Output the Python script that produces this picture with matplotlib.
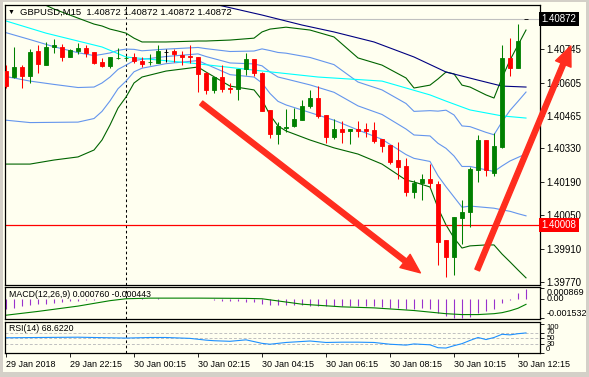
import numpy as np
import matplotlib
matplotlib.use("Agg")
import matplotlib.pyplot as plt
import matplotlib.transforms as mtransforms
from matplotlib.patches import Rectangle, FancyArrowPatch

W, H = 589, 377
BG = "#FFFFF0"
UP, DOWN = "#008000", "#FF0000"
plt.rcParams["font.family"] = ["Liberation Sans", "DejaVu Sans"]

# GBPUSD M15, bar 0 = 29 Jan 20:15
opens = [1.40654, 1.40629, 1.40671, 1.40633, 1.40738, 1.40679, 1.40755, 1.40755, 1.40713, 1.40738,
         1.40750, 1.40734, 1.40692, 1.40675, 1.40707, 1.40708, 1.40713, 1.40696, 1.40690, 1.40688,
         1.40736, 1.40738, 1.40721, 1.40717, 1.40713, 1.40646, 1.40575, 1.40629, 1.40581, 1.40579,
         1.40663, 1.40704, 1.40646, 1.40491, 1.40390, 1.40417, 1.40424, 1.40449, 1.40507, 1.40541,
         1.40470, 1.40378, 1.40411, 1.40403, 1.40411, 1.40411, 1.40407, 1.40369, 1.40344, 1.40281,
         1.40256, 1.40147, 1.40185, 1.40202, 1.40181, 1.39946, 1.39875, 1.40038, 1.40063, 1.40239,
         1.40365, 1.40227, 1.40336, 1.40709, 1.40667, 1.40872]
highs = [1.40679, 1.40755, 1.40679, 1.40746, 1.40763, 1.40776, 1.40788, 1.40767, 1.40746, 1.40771,
         1.40763, 1.40734, 1.40709, 1.40713, 1.40750, 1.40717, 1.40730, 1.40713, 1.40725, 1.40763,
         1.40746, 1.40746, 1.40738, 1.40763, 1.40713, 1.40650, 1.40629, 1.40679, 1.40604, 1.40663,
         1.40730, 1.40704, 1.40650, 1.40491, 1.40440, 1.40495, 1.40499, 1.40533, 1.40575, 1.40591,
         1.40470, 1.40453, 1.40445, 1.40411, 1.40445, 1.40436, 1.40440, 1.40369, 1.40344, 1.40357,
         1.40290, 1.40197, 1.40223, 1.40264, 1.40193, 1.39946, 1.40042, 1.40114, 1.40252, 1.40386,
         1.40365, 1.40394, 1.40763, 1.40792, 1.40851, 1.40872]
lows = [1.40583, 1.40625, 1.40583, 1.40604, 1.40646, 1.40679, 1.40730, 1.40696, 1.40713, 1.40725,
        1.40713, 1.40683, 1.40671, 1.40667, 1.40704, 1.40700, 1.40688, 1.40671, 1.40679, 1.40688,
        1.40692, 1.40692, 1.40679, 1.40688, 1.40566, 1.40558, 1.40562, 1.40566, 1.40562, 1.40533,
        1.40637, 1.40633, 1.40487, 1.40373, 1.40348, 1.40399, 1.40419, 1.40449, 1.40499, 1.40457,
        1.40352, 1.40369, 1.40352, 1.40348, 1.40378, 1.40378, 1.40352, 1.40315, 1.40264, 1.40202,
        1.40130, 1.40122, 1.40114, 1.40164, 1.39841, 1.39791, 1.39799, 1.39929, 1.40000, 1.40189,
        1.40214, 1.40214, 1.40331, 1.40633, 1.40667, 1.40872]
closes = [1.40591, 1.40671, 1.40633, 1.40734, 1.40683, 1.40755, 1.40763, 1.40713, 1.40742, 1.40750,
          1.40730, 1.40688, 1.40675, 1.40713, 1.40709, 1.40710, 1.40696, 1.40683, 1.40692, 1.40738,
          1.40736, 1.40725, 1.40713, 1.40713, 1.40642, 1.40575, 1.40629, 1.40579, 1.40577, 1.40663,
          1.40704, 1.40646, 1.40487, 1.40390, 1.40424, 1.40419, 1.40453, 1.40507, 1.40541, 1.40466,
          1.40378, 1.40411, 1.40399, 1.40411, 1.40403, 1.40403, 1.40361, 1.40340, 1.40273, 1.40252,
          1.40147, 1.40185, 1.40202, 1.40185, 1.39938, 1.39875, 1.40042, 1.40063, 1.40243, 1.40365,
          1.40239, 1.40340, 1.40709, 1.40667, 1.40780, 1.40872]

# Bollinger bands (green = 2 dev, blue = 1 dev + middle), read at these bars
bb_idx = [0, 3, 6, 9, 11, 12, 13, 14, 15, 16, 17, 20, 24, 25, 28, 31, 32, 33, 34, 35, 38, 41,
          44, 47, 50, 51, 53, 54, 55, 56, 57, 58, 60, 61, 62, 63, 64, 65]
bb_up2 = [1.40998, 1.40960, 1.40914, 1.40876, 1.40851, 1.40843, 1.40830, 1.40822, 1.40813, 1.40792,
          1.40776, 1.40776, 1.40780, 1.40780, 1.40784, 1.40792, 1.40818, 1.40830, 1.40834, 1.40838,
          1.40826, 1.40797, 1.40709, 1.40679, 1.40625, 1.40583, 1.40595, 1.40621, 1.40650, 1.40642,
          1.40595, 1.40587, 1.40554, 1.40541, 1.40625, 1.40700, 1.40763, 1.40826]
bb_lo2 = [1.40264, 1.40264, 1.40281, 1.40294, 1.40323, 1.40365, 1.40428, 1.40499, 1.40545, 1.40604,
          1.40629, 1.40654, 1.40671, 1.40650, 1.40591, 1.40575, 1.40533, 1.40470, 1.40424, 1.40403,
          1.40365, 1.40332, 1.40306, 1.40264, 1.40197, 1.40189, 1.40168, 1.40080, 1.40009, 1.39954,
          1.39912, 1.39921, 1.39925, 1.39925, 1.39887, 1.39854, 1.39820, 1.39787]
bb_mid = [1.40631, 1.40612, 1.40598, 1.40585, 1.40587, 1.40604, 1.40629, 1.40661, 1.40679, 1.40698,
          1.40703, 1.40715, 1.40726, 1.40715, 1.40688, 1.40684, 1.40676, 1.40650, 1.40629, 1.40621,
          1.40596, 1.40565, 1.40508, 1.40472, 1.40411, 1.40386, 1.40382, 1.40351, 1.40330, 1.40298,
          1.40254, 1.40254, 1.40240, 1.40233, 1.40256, 1.40277, 1.40292, 1.40307]
bb_up1 = [1.40815, 1.40786, 1.40756, 1.40731, 1.40719, 1.40724, 1.40730, 1.40741, 1.40746, 1.40745,
          1.40739, 1.40746, 1.40753, 1.40748, 1.40736, 1.40738, 1.40747, 1.40740, 1.40732, 1.40729,
          1.40711, 1.40681, 1.40608, 1.40575, 1.40518, 1.40485, 1.40488, 1.40486, 1.40490, 1.40470,
          1.40424, 1.40421, 1.40397, 1.40387, 1.40441, 1.40489, 1.40527, 1.40566]
bb_lo1 = [1.40448, 1.40438, 1.40439, 1.40440, 1.40455, 1.40485, 1.40529, 1.40580, 1.40612, 1.40651,
          1.40666, 1.40685, 1.40698, 1.40683, 1.40639, 1.40629, 1.40604, 1.40560, 1.40527, 1.40512,
          1.40480, 1.40448, 1.40407, 1.40368, 1.40304, 1.40288, 1.40275, 1.40215, 1.40169, 1.40126,
          1.40083, 1.40088, 1.40082, 1.40079, 1.40072, 1.40066, 1.40056, 1.40047]

ma_cyan_idx = [0, 5, 12, 15, 23, 31, 39, 47, 53, 55, 58, 62, 65]
ma_cyan = [1.40864, 1.40813, 1.40755, 1.40713, 1.40688, 1.40658, 1.40629, 1.40612, 1.40554,
           1.40528, 1.40491, 1.40466, 1.40457]
ma_navy_idx = [23, 26, 32, 37, 41, 46, 51, 55, 59, 62, 65]
ma_navy = [1.40956, 1.40935, 1.40889, 1.40847, 1.40818, 1.40776, 1.40713, 1.40650, 1.40616,
           1.40591, 1.40587]

macd_main = [-0.00080, -0.00072, -0.00060, -0.00052, -0.00045, -0.00038, -0.00032, -0.00026,
             -0.00020, -0.00015, -0.00011, -0.00008, -0.00005, -0.00003, -0.00001, 0.00001,
             0.00002, 0.00003, 0.00002, 0.00003, 0.00002, 0.00001, 0.00001, -0.00001, -0.00002,
             -0.00004, -0.00010, -0.00015, -0.00018, -0.00020, -0.00023, -0.00025, -0.00040,
             -0.00048, -0.00050, -0.00052, -0.00050, -0.00052, -0.00055, -0.00055, -0.00058,
             -0.00055, -0.00055, -0.00055, -0.00057, -0.00058, -0.00060, -0.00068, -0.00072,
             -0.00072, -0.00080, -0.00078, -0.00075, -0.00078, -0.00110, -0.00135, -0.00150,
             -0.00150, -0.00145, -0.00110, -0.00100, -0.00080, -0.00030, -0.00010, 0.00042, 0.00076]
macd_sig_idx = [0, 4, 9, 13, 15, 18, 24, 30, 32, 37, 42, 46, 51, 55, 57, 59, 61, 62, 63, 64, 65]
macd_sig = [-0.00130, -0.00100, -0.00058, -0.00015, 0.0, 0.00005, 0.00005, 0.00003, 0.0, -0.00043,
            -0.00064, -0.00072, -0.00093, -0.00118, -0.00125, -0.00125, -0.00118, -0.00110,
            -0.00095, -0.00075, -0.00044]

rsi_idx = [0, 4, 9, 13, 15, 18, 20, 23, 25, 26, 28, 30, 32, 33, 35, 38, 40, 42, 44, 46, 48, 50,
           51, 53, 54, 55, 56, 57, 58, 59, 60, 61, 62, 63, 64, 65]
rsi = [52, 53, 54, 52, 51, 53, 53, 50, 44, 42, 40, 45, 33, 30, 36, 41, 36, 37, 37, 36, 30, 27,
       31, 28, 18, 17, 25, 32, 43, 53, 46, 53, 64, 62, 66, 68.622]

time_idx = [0, 8, 16, 24, 32, 40, 48, 56, 64]
time_labels = ["29 Jan 2018", "29 Jan 22:15", "30 Jan 00:15", "30 Jan 02:15", "30 Jan 04:15",
               "30 Jan 06:15", "30 Jan 08:15", "30 Jan 10:15", "30 Jan 12:15"]
price_ticks = [1.40745, 1.40605, 1.40465, 1.40330, 1.40190, 1.40050, 1.39910, 1.39770]
bid = 1.40872
hline_price = 1.40008
separator_bar = 15
arrow_down = ((24.4, 1.40520), (51.8, 1.39808))
arrow_up = ((58.9, 1.39820), (70.6, 1.40759))


def px_axes(fig, x0, y0, x1, y1):
    return fig.add_axes([x0 / W, 1 - y1 / H, (x1 - x0) / W, (y1 - y0) / H])


fig = plt.figure(figsize=(W / 100, H / 100), dpi=100, facecolor=BG)
ax = px_axes(fig, 4.5, 5, 540, 285)
axm = px_axes(fig, 4.5, 287, 540, 319)
axr = px_axes(fig, 4.5, 322, 540, 353)
XL = (-0.19, 66.75)

for a in (ax, axm, axr):
    a.set_facecolor(BG)
    a.set_xlim(*XL)
    for s in a.spines.values():
        s.set_color("black")
        s.set_linewidth(0.9)
    a.yaxis.tick_right()
    a.tick_params(axis="y", length=3, width=0.6, pad=1.5, labelsize=7)
    a.axvline(separator_bar, color="black", lw=0.75, ls=(0, (2.5, 2.5)), zorder=1)
for a in (ax, axm):
    a.set_xticks([])

# indicator lines
ax.plot(bb_idx, bb_up2, color="#006400", lw=0.8, zorder=2)
ax.plot(bb_idx, bb_lo2, color="#006400", lw=0.8, zorder=2)
for ser in (bb_up1, bb_mid, bb_lo1):
    ax.plot(bb_idx, ser, color="#6495ED", lw=0.8, zorder=2)
ax.plot(ma_cyan_idx, ma_cyan, color="#00FFFF", lw=0.8, zorder=2)
ax.plot(ma_navy_idx, ma_navy, color="#000080", lw=0.8, zorder=2)

ax.axhline(bid, color="#C0C0C0", lw=0.8, zorder=1)
ax.axhline(hline_price, color="#FF0000", lw=0.9, zorder=2)

# candles
x = np.arange(len(opens))
o, hi, lo, c = map(np.array, (opens, highs, lows, closes))
col = np.where(c > o, UP, np.where(c < o, DOWN, "black"))
ax.vlines(x, lo, hi, colors=col, lw=0.75, zorder=3)
ax.bar(x, np.abs(c - o), bottom=np.minimum(o, c), width=0.6, color=col,
       edgecolor=col, lw=0.6, zorder=4)

ax.set_ylim(1.39757, 1.40931)
ax.set_yticks(price_ticks)
ax.set_yticklabels([f"{p:.5f}" for p in price_ticks])

# arrows
for (p0, p1) in (arrow_down, arrow_up):
    ar = FancyArrowPatch(p0, p1, arrowstyle="simple,head_length=14,head_width=12,tail_width=3.6",
                         mutation_scale=1, color="#FF2D1E", shrinkA=0, shrinkB=0,
                         clip_on=False, zorder=6)
    ax.add_patch(ar)

trans = mtransforms.blended_transform_factory(ax.transAxes, ax.transData)
ax.text(1.003, bid, "1.40872", transform=trans, ha="left", va="center", fontsize=7,
        color="white", bbox=dict(boxstyle="square,pad=0.22", fc="black", ec="none"), zorder=7)
ax.text(1.003, hline_price, "1.40008", transform=trans, ha="left", va="center", fontsize=7,
        color="white", bbox=dict(boxstyle="square,pad=0.22", fc="#FF0000", ec="none"), zorder=7)

fig.text(8 / W, 1 - 12 / H, "\u25bc", fontsize=5, va="center", ha="left")
fig.text(20 / W, 1 - 12 / H, "GBPUSD,M15  1.40872 1.40872 1.40872 1.40872",
         fontsize=6.8, va="center", ha="left")

# MACD
axm.vlines(x, 0, macd_main, colors="#9932CC", lw=0.8)
axm.plot(macd_sig_idx, macd_sig, color="#008000", lw=0.8)
axm.set_ylim(-0.00160, 0.00093)
axm.set_yticks([0.000869, 0.0, -0.001532])
axm.set_yticklabels(["0.000869", "0.00", "-0.001532"], fontsize=6.5)
for lab, va in zip(axm.get_yticklabels(), ("top", "center", "bottom")):
    lab.set_va(va)
axm.text(0.008, 0.78, "MACD(12,26,9) 0.000760 -0.000443", transform=axm.transAxes,
         fontsize=6.3, va="center", ha="left")

# RSI
for lv in (70, 50, 30):
    axr.axhline(lv, color="#C0C0C0", lw=0.7, ls=(0, (3, 2)))
axr.plot(rsi_idx, rsi, color="#1E90FF", lw=0.8)
axr.set_ylim(0, 106)
axr.set_yticks([100, 70, 50, 30, 0])
axr.set_yticklabels(["100", "70", "50", "30", "0"], fontsize=5.5)
for lab, va in zip(axr.get_yticklabels(), ("top", "center", "center", "center", "bottom")):
    lab.set_va(va)
axr.text(0.008, 0.78, "RSI(14) 68.6220", transform=axr.transAxes,
         fontsize=6.3, va="center", ha="left")
axr.set_xticks(time_idx)
axr.set_xticklabels(time_labels, ha="left", fontsize=6.5)
axr.tick_params(axis="x", length=3, width=0.6, pad=2)

# window borders
for (bx, by, bw, bh) in ((0, 0, 3, H), (0, 372, W, 5), (586, 0, 3, H), (0, 0, W, 2)):
    fig.patches.append(Rectangle((bx / W, 1 - (by + bh) / H), bw / W, bh / H,
                                 transform=fig.transFigure, fc="#D4D0C8", ec="none"))

fig.savefig("out.png", dpi=100, facecolor=BG)
